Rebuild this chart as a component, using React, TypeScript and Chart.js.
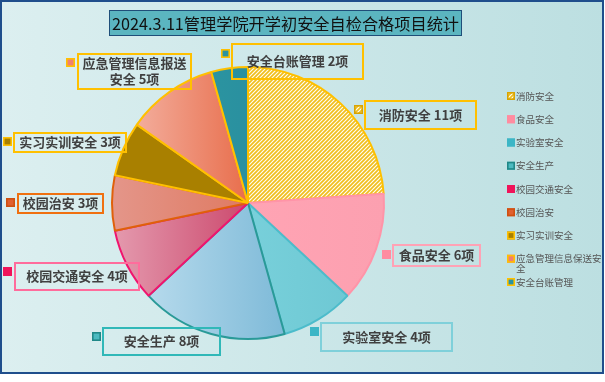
import React, { useEffect, useRef } from "react";
import { Chart, registerables } from "chart.js";

Chart.register(...registerables);

const chartTitle = "2024.3.11管理学院开学初安全自检合格项目统计";
const categories = ["消防安全", "食品安全", "实验室安全", "安全生产", "校园交通安全", "校园治安", "实习实训安全", "应急管理信息报送安全", "安全台账管理"];
const legendLabels = ["消防安全", "食品安全", "实验室安全", "安全生产", "校园交通安全", "校园治安", "实习实训安全", "应急管理信息保送安全", "安全台账管理"];
const values = [11, 6, 4, 8, 4, 3, 3, 5, 2];
const unit = "项";

// styles
const fillLight = ["#FFFBEA", "#FFA4B4", "#78D0DA", "#B6DAEC", "#E49AAE", "#E4968A", "#A98000", "#F3AD9C", "#2B94A0"];
const fillDark = ["#FFFBEA", "#FCA0B0", "#6EC8D4", "#7EBAD8", "#CC4A6E", "#DF7A62", "#A98000", "#E86E4C", "#2A90A0"];
const sliceBorders = ["#FFC000", "#FF94A8", "#4CBCCB", "#2A9A98", "#F0146E", "#E0600A", "#FFC000", "#FFC000", "#FFC000"];
const boxBorders = ["#FFC000", "#FFA2B5", "#7FD0DA", "#30B8B8", "#FF6C9C", "#F07010", "#FFC000", "#FFC000", "#FFC000"];
const markerFill = ["hatch", "#FF8CA0", "#3CB6C6", "#4BBAC0", "#F0145A", "#E06030", "#A88000", "#F08070", "#2A93A0"];
const markerBorder = ["#D9A400", "#FF8CA0", "#3CB6C6", "#208888", "#F0145A", "#D05010", "#FFC000", "#FFC000", "#FFC000"];

// label box layout
const labelBoxes = [
  { x: 364, y: 100, w: 113, h: 30, mx: 354, my: 105 },
  { x: 392, y: 244, w: 89, h: 23, mx: 382, my: 250 },
  { x: 320, y: 322, w: 133, h: 30, mx: 310, my: 327 },
  { x: 102, y: 327, w: 119, h: 29, mx: 92, my: 332 },
  { x: 14, y: 262, w: 126, h: 29, mx: 3, my: 267 },
  { x: 17, y: 193, w: 87, h: 21, mx: 6, my: 198 },
  { x: 13, y: 132, w: 114, h: 21, mx: 3, my: 137 },
  { x: 77, y: 53, w: 115, h: 37, mx: 66, my: 58 },
  { x: 231, y: 43, w: 133, h: 37, mx: 221, my: 49 },
];

const FONT = '"Noto Sans CJK SC", "Noto Sans", sans-serif';

let hatchCache: CanvasPattern | null = null;
function hatch(ctx: CanvasRenderingContext2D): CanvasPattern {
  if (hatchCache) return hatchCache;
  const c = document.createElement("canvas");
  c.width = 4;
  c.height = 4;
  const g = c.getContext("2d")!;
  g.fillStyle = "#FFFDF2";
  g.fillRect(0, 0, 4, 4);
  g.strokeStyle = "#F0BE1E";
  g.lineWidth = 1.7;
  g.beginPath();
  g.moveTo(0, 4); g.lineTo(4, 0);
  g.moveTo(-2, 2); g.lineTo(2, -2);
  g.moveTo(2, 6); g.lineTo(6, 2);
  g.stroke();
  hatchCache = ctx.createPattern(c, "repeat")!;
  return hatchCache;
}

function sliceFill(chart: any, i: number): any {
  const ca = chart.chartArea;
  if (!ca) return fillDark[i];
  const ctx = chart.ctx as CanvasRenderingContext2D;
  if (i === 0) return hatch(ctx);
  const cx = (ca.left + ca.right) / 2;
  const r = Math.min(ca.right - ca.left, ca.bottom - ca.top) / 2;
  const total = values.reduce((a, b) => a + b, 0);
  let before = 0;
  for (let k = 0; k < i; k++) before += values[k];
  const a0 = (before / total) * Math.PI * 2;
  const a1 = ((before + values[i]) / total) * Math.PI * 2;
  const xs = [cx, cx + r * Math.sin(a0), cx + r * Math.sin(a1)];
  for (let a = a0; a <= a1; a += 0.02) xs.push(cx + r * Math.sin(a));
  const minX = Math.min(...xs);
  const maxX = Math.max(...xs);
  const g = ctx.createLinearGradient(minX, 0, maxX, 0);
  g.addColorStop(0, fillLight[i]);
  g.addColorStop(1, fillDark[i]);
  return g;
}

function drawMarker(ctx: CanvasRenderingContext2D, i: number, x: number, y: number, s: number) {
  ctx.save();
  ctx.fillStyle = markerFill[i] === "hatch" ? hatch(ctx) : markerFill[i];
  ctx.fillRect(x, y, s, s);
  ctx.strokeStyle = markerBorder[i];
  ctx.lineWidth = 1.6;
  ctx.strokeRect(x + 0.8, y + 0.8, s - 1.6, s - 1.6);
  ctx.restore();
}

function wrap(ctx: CanvasRenderingContext2D, text: string, maxW: number): string[] {
  const lines: string[] = [];
  let cur = "";
  for (const ch of text) {
    if (cur && ctx.measureText(cur + ch).width > maxW) {
      lines.push(cur.replace(/\s+$/, ""));
      cur = ch === " " ? "" : ch;
    } else cur += ch;
  }
  if (cur) lines.push(cur);
  return lines;
}

const decorPlugin = {
  id: "decor",
  beforeDraw(chart: any) {
    const ctx = chart.ctx as CanvasRenderingContext2D;
    const W = chart.width;
    ctx.save();
    ctx.fillStyle = "#FFFFFF";
    ctx.fillRect(0, 0, W, chart.height);
    const bg = ctx.createLinearGradient(0, 0, W, 0);
    bg.addColorStop(0, "#DCEFF0");
    bg.addColorStop(1, "#BCDFE1");
    ctx.fillStyle = bg;
    ctx.fillRect(0, 0, W - 1, 374);
    ctx.strokeStyle = "#1F4E8C";
    ctx.lineWidth = 2;
    ctx.strokeRect(1, 1, W - 3, 372);
    // title
    ctx.fillStyle = "#5BB5C0";
    ctx.fillRect(109, 10, 353, 26);
    ctx.strokeStyle = "#1F4E79";
    ctx.lineWidth = 1;
    ctx.strokeRect(109.5, 10.5, 352, 25);
    ctx.fillStyle = "#111111";
    ctx.font = `16.2px ${FONT}`;
    ctx.textAlign = "center";
    ctx.textBaseline = "middle";
    ctx.fillText(chartTitle, 285.5, 23.5);
    ctx.restore();
  },
  afterDraw(chart: any) {
    const ctx = chart.ctx as CanvasRenderingContext2D;
    ctx.save();
    // data labels
    ctx.font = `bold 13px ${FONT}`;
    ctx.textAlign = "center";
    ctx.textBaseline = "middle";
    categories.forEach((name, i) => {
      const b = labelBoxes[i];
      ctx.strokeStyle = boxBorders[i];
      ctx.lineWidth = 2;
      ctx.strokeRect(b.x + 1, b.y + 1, b.w - 2, b.h - 2);
      const lines = wrap(ctx, `${name} ${values[i]}${unit}`, b.w - 6);
      const lh = 16;
      const cy = b.y + b.h / 2 - ((lines.length - 1) * lh) / 2;
      ctx.fillStyle = "#404040";
      lines.forEach((ln, k) => ctx.fillText(ln, b.x + b.w / 2, cy + k * lh));
      drawMarker(ctx, i, b.mx, b.my, 9);
    });
    // legend
    ctx.font = `9.5px ${FONT}`;
    ctx.textAlign = "left";
    legendLabels.forEach((name, i) => {
      const y = 96 + i * 23.25;
      drawMarker(ctx, i, 507, y - 4, 8);
      ctx.fillStyle = "#555555";
      const lines = wrap(ctx, name, 86);
      lines.forEach((ln, k) => ctx.fillText(ln, 516, y + k * 10));
    });
    ctx.restore();
  },
};

export default function App() {
  const ref = useRef<HTMLCanvasElement | null>(null);
  useEffect(() => {
    document.body.style.margin = "0";
    const canvas = ref.current!;
    const chart = new Chart(canvas, {
      type: "pie",
      data: {
        labels: categories,
        datasets: [
          {
            data: values,
            backgroundColor: (c: any) => sliceFill(c.chart, c.dataIndex),
            borderColor: sliceBorders,
            borderWidth: 2,
          },
        ],
      },
      options: {
        responsive: false,
        animation: false,
        devicePixelRatio: 1,
        layout: { padding: { left: 111, right: 220, top: 66, bottom: 42 } },
        plugins: {
          legend: { display: false },
          tooltip: { enabled: false },
          title: { display: false },
        },
      },
      plugins: [decorPlugin],
    } as any);
    return () => chart.destroy();
  }, []);
  return <canvas ref={ref} width={605} height={382} style={{ display: "block" }} />;
}
